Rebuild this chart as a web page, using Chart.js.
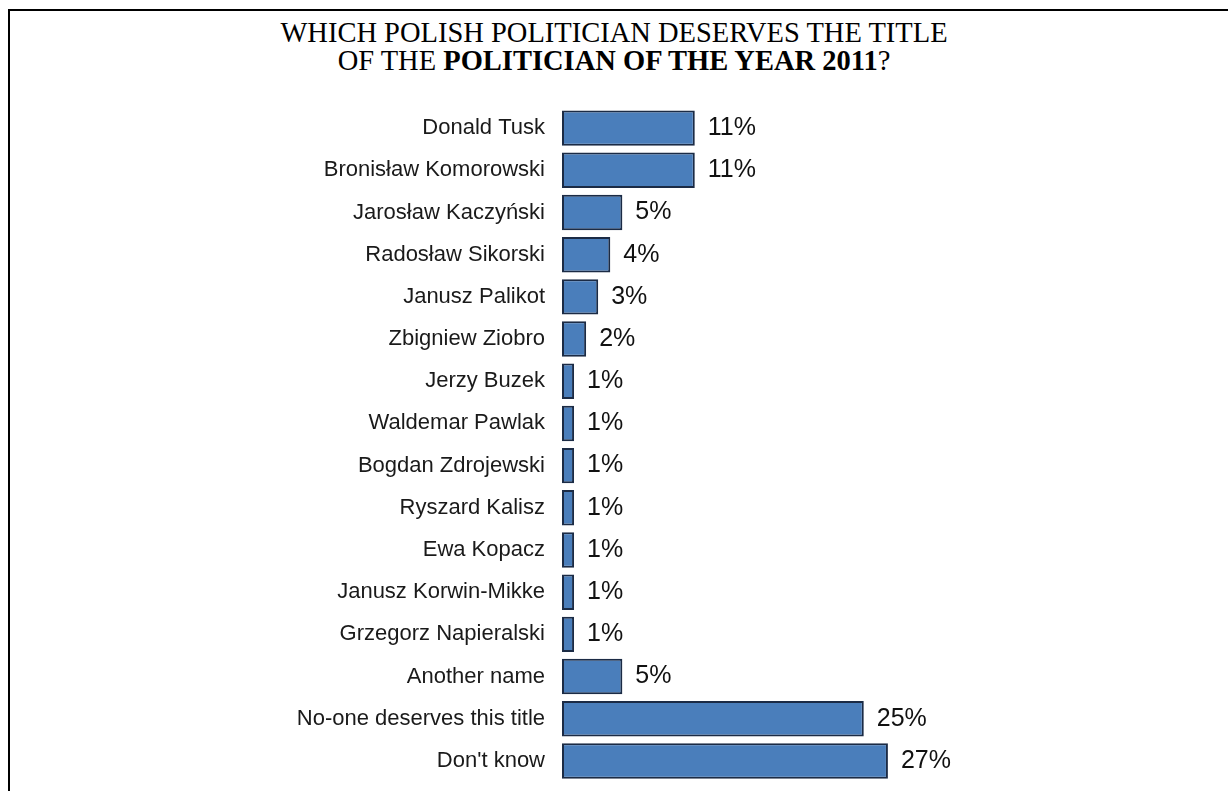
<!DOCTYPE html>
<html>
<head>
<meta charset="utf-8">
<script src="https://cdn.jsdelivr.net/npm/chart.js@4.4.1/dist/chart.umd.min.js"></script>
<style>
    html, body { margin: 0; padding: 0; background: #fff; overflow: hidden; width: 1228px; height: 791px; }
    .frame {
        position: absolute; left: 8px; top: 9px; width: 1220px; height: 782px;
        border-left: 2px solid #000; border-top: 2px solid #000; box-sizing: border-box;
    }
    .title {
        position: absolute; left: 0; top: 19px; width: 1228px;
        text-align: center; font-family: "Liberation Serif", "Times New Roman", serif;
        font-size: 28.5px; line-height: 28px; color: #000;
    }
    #chart { position: absolute; left: 0; top: 0; }
</style>
</head>
<body>
<div class="frame"></div>
<div class="title">WHICH POLISH POLITICIAN DESERVES THE TITLE<br>OF THE <b>POLITICIAN OF THE YEAR 2011</b>?</div>
<canvas id="chart" width="1228" height="791"></canvas>
<script>
const names = [
    'Donald Tusk',
    'Bronisław Komorowski',
    'Jarosław Kaczyński',
    'Radosław Sikorski',
    'Janusz Palikot',
    'Zbigniew Ziobro',
    'Jerzy Buzek',
    'Waldemar Pawlak',
    'Bogdan Zdrojewski',
    'Ryszard Kalisz',
    'Ewa Kopacz',
    'Janusz Korwin-Mikke',
    'Grzegorz Napieralski',
    'Another name',
    'No-one deserves this title',
    "Don't know"
];
const shares = [11, 11, 5, 4, 3, 2, 1, 1, 1, 1, 1, 1, 1, 5, 25, 27];

// value text to the right of each bar
const valueLabels = {
    id: 'valueLabels',
    afterDatasetsDraw(chart) {
        const ctx = chart.ctx;
        const meta = chart.getDatasetMeta(0);
        ctx.save();
        ctx.font = '25px "Liberation Sans", Arial, sans-serif';
        ctx.fillStyle = '#111';
        ctx.textAlign = 'left';
        ctx.textBaseline = 'middle';
        meta.data.forEach((bar, i) => {
            ctx.fillText(shares[i] + '%', bar.x + 13, bar.y);
        });
        ctx.restore();
    }
};

new Chart(document.getElementById('chart'), {
    type: 'bar',
    data: {
        labels: names,
        datasets: [{
            data: shares,
            backgroundColor: '#4a7ebb',
            borderColor: '#1b2b45',
            borderWidth: 2,
            borderSkipped: false,
            barPercentage: 0.84,
            categoryPercentage: 1
        }]
    },
    options: {
        indexAxis: 'y',
        responsive: false,
        animation: false,
        layout: {
            padding: { left: 0, right: 328, top: 107, bottom: 9 }
        },
        scales: {
            x: {
                display: false,
                min: 0,
                max: 28
            },
            y: {
                grid: { display: false, drawTicks: false },
                border: { display: false },
                ticks: {
                    padding: 17,
                    color: '#1a1a1a',
                    font: { family: '"Liberation Sans", Arial, sans-serif', size: 22 }
                },
                afterFit(scale) {
                    scale.width = 562;
                    // labels sit inside the bands, no extra room needed above/below
                    scale.paddingTop = 0;
                    scale.paddingBottom = 0;
                }
            }
        },
        plugins: {
            legend: { display: false },
            tooltip: { enabled: false }
        }
    },
    plugins: [valueLabels]
});
</script>
</body>
</html>
